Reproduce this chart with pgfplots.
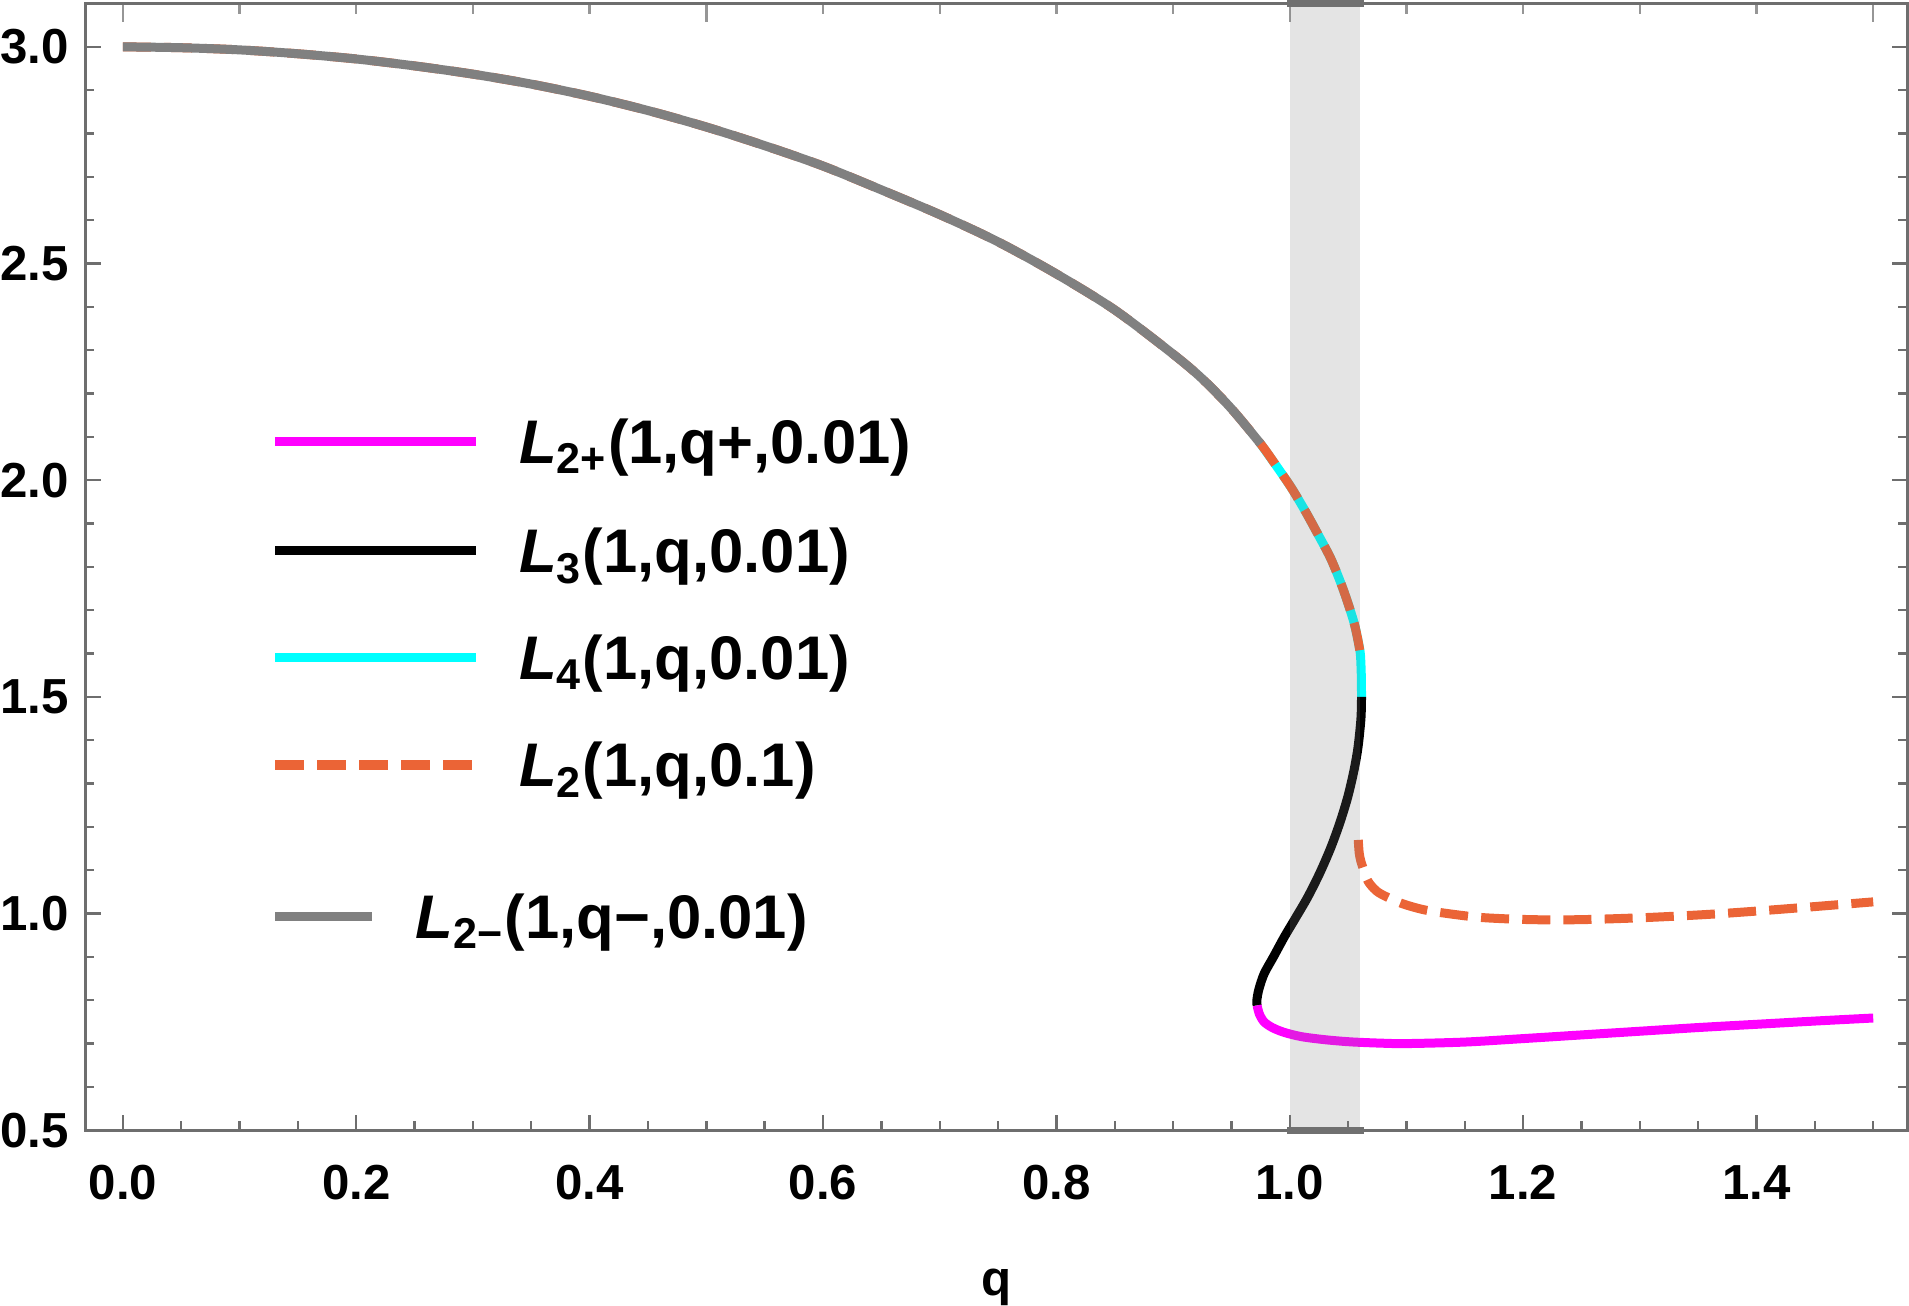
\documentclass[border=0pt]{standalone}
\usepackage{fontspec}
\setmainfont{Liberation Sans}
\usepackage{pgfplots}
\usepackage{pgfplotstable}
\pgfplotsset{compat=1.18}

\definecolor{framegray}{RGB}{110,110,110}
\definecolor{topgray}{RGB}{150,150,150}
\definecolor{curvegray}{RGB}{128,128,128}
\definecolor{dashorange}{RGB}{235,100,54}
\definecolor{bandgray}{RGB}{127,127,127}
\definecolor{bandedge}{RGB}{112,112,112}
\definecolor{pmagenta}{RGB}{255,0,255}
\definecolor{pcyan}{RGB}{0,255,255}

\newcommand{\legfont}{\fontsize{15.4}{18}\selectfont\bfseries}
\newcommand{\tickfont}{\fontsize{12.3}{14}\selectfont\bfseries}

% L_{2-}(1,q-,0.01): upper branch
\pgfplotstableread{
q L
0     3.000
0.05  2.998
0.10  2.993
0.15  2.984
0.20  2.972
0.25  2.956
0.30  2.937
0.35  2.914
0.40  2.886
0.45  2.853
0.50  2.815
0.55  2.772
0.60  2.725
0.65  2.670
0.70  2.613
0.75  2.550
0.80  2.476
0.85  2.393
0.90  2.291
0.925 2.234
0.95  2.165
0.975 2.084
}\tabLtwoMinus

% L_4(1,q,0.01)
\pgfplotstableread{
q L
0.975  2.084
0.988  2.035
1.001  1.984
1.013  1.930
1.024  1.876
1.035  1.820
1.044  1.761
1.050  1.715
1.0553 1.669
1.0585 1.630
1.0605 1.599
1.0613 1.550
1.0615 1.500
}\tabLfour

% L_3(1,q,0.01)
\pgfplotstableread{
q L
1.0615 1.500
1.0610 1.450
1.0585 1.384
1.0550 1.330
1.0497 1.269
1.0430 1.210
1.0353 1.153
1.0260 1.095
1.0154 1.038
1.0050 0.990
0.9953 0.946
0.9860 0.900
0.9780 0.861
0.9735 0.825
0.9718 0.800
0.9720 0.788
}\tabLthree

% L_{2+}(1,q+,0.01)
\pgfplotstableread{
q L
0.9720 0.788
0.9740 0.768
0.9780 0.750
0.9850 0.737
0.9950 0.726
1.0100 0.716
1.0300 0.709
1.0520 0.704
1.0780 0.701
1.1000 0.700
1.1500 0.7035
1.2000 0.7115
1.2500 0.7200
1.3000 0.7285
1.3500 0.7370
1.4000 0.7445
1.4500 0.7520
1.5000 0.7590
}\tabLtwoPlus

% L_2(1,q,0.1): upper branch
\pgfplotstableread{
q L
0     3.000
0.05  2.998
0.10  2.993
0.15  2.984
0.20  2.972
0.25  2.956
0.30  2.937
0.35  2.914
0.40  2.886
0.45  2.853
0.50  2.815
0.55  2.772
0.60  2.725
0.65  2.670
0.70  2.613
0.75  2.550
0.80  2.476
0.85  2.393
0.90  2.291
0.925 2.234
0.95  2.165
0.975 2.084
0.988  2.035
1.001  1.984
1.013  1.930
1.024  1.876
1.035  1.820
1.044  1.761
1.050  1.715
1.0553 1.669
1.0585 1.630
1.0605 1.599
}\tabLtwoUpper

% L_2(1,q,0.1): lower branch
\pgfplotstableread{
q L
1.0587 1.170
1.0595 1.140
1.0610 1.120
1.0635 1.100
1.0668 1.076
1.0720 1.058
1.0783 1.045
1.0953 1.024
1.1130 1.010
1.1300 1.002
1.1640 0.991
1.2070 0.986
1.2500 0.986
1.3070 0.991
1.3640 0.999
1.4210 1.010
1.5000 1.027
}\tabLtwoLower

\begin{document}
\begin{tikzpicture}
% unlabelled ticks along the top edge
\begin{axis}[
  overlay,
  scale only axis, width=455.6pt, height=281.7pt,
  xmin=-0.0323, xmax=1.5294, ymin=0.5, ymax=3.1,
  axis line style={draw=none},
  xtick pos=right, xticklabels={},
  xticklabel style={inner sep=0pt},
  xtick={0,0.5,1.0,1.5},
  minor xtick={0.1,0.2,0.3,0.4,0.6,0.7,0.8,0.9,1.1,1.2,1.3,1.4},
  ytick=\empty,
  tick align=inside,
  major tick length=4.5pt, minor tick length=2.7pt,
  every tick/.style={topgray, line width=0.6pt},
]
\end{axis}
\begin{axis}[
  scale only axis, width=455.6pt, height=281.7pt,
  xmin=-0.0323, xmax=1.5294, ymin=0.5, ymax=3.1,
  clip=false,
  axis line style={framegray, line width=0.75pt},
  xtick={0,0.2,0.4,0.6,0.8,1.0,1.2,1.4},
  minor xtick={0.05,0.1,0.15,0.25,0.3,0.35,0.45,0.5,0.55,0.65,0.7,0.75,0.85,0.9,0.95,1.05,1.1,1.15,1.25,1.3,1.35,1.45,1.5},
  ytick={0.5,1.0,1.5,2.0,2.5,3.0},
  minor ytick={0.6,0.7,0.8,0.9,1.1,1.2,1.3,1.4,1.6,1.7,1.8,1.9,2.1,2.2,2.3,2.4,2.6,2.7,2.8,2.9,3.1},
  xtick pos=left, ytick pos=both,
  tick align=inside,
  major tick length=3.9pt, minor tick length=2.3pt,
  every tick/.style={framegray, line width=0.6pt},
  ticklabel style={font=\tickfont},
  xticklabel style={inner sep=0pt, anchor=north, yshift=-8.6pt},
  yticklabel style={inner sep=0pt, anchor=east, xshift=-4pt},
  xlabel={q},
  xlabel style={font=\tickfont, inner sep=0pt, at={(axis description cs:0.5,0)}, anchor=base, yshift=-41.2pt},
  every axis plot/.append style={line width=2.25pt, line join=round},
  /pgf/number format/.cd, fixed, fixed zerofill, precision=1, assume math mode=true,
]
\addplot[pcyan, smooth] table[x=q, y=L] {\tabLfour};
\addplot[black, smooth] table[x=q, y=L] {\tabLthree};
\addplot[pmagenta, smooth] table[x=q, y=L] {\tabLtwoPlus};
\addplot[dashorange, smooth, dash pattern=on 7pt off 3.3pt] table[x=q, y=L] {\tabLtwoUpper};
\addplot[dashorange, smooth, dash pattern=on 7pt off 3.3pt] table[x=q, y=L] {\tabLtwoLower};
\addplot[curvegray, smooth] table[x=q, y=L] {\tabLtwoMinus};

% translucent band over 1.0 <= q <= 1.06
\fill[bandgray, opacity=0.21] (axis cs:1.0,0.5) rectangle (axis cs:1.06,3.1);
\draw[bandedge, line width=1.75pt] (axis cs:0.998,0.5) -- (axis cs:1.064,0.5);
\draw[bandedge, line width=1.75pt] (axis cs:0.998,3.1) -- (axis cs:1.064,3.1);

% legend
\draw[pmagenta, line width=2.3pt] (axis cs:0.1304,2.090) -- (axis cs:0.3026,2.090);
\node[anchor=base west, inner sep=0pt, yshift=-5.5pt, font=\legfont] at (axis cs:0.339,2.090)
  {\textit{L}\textsubscript{2+}(1,q+,0.01)};
\draw[black, line width=2.3pt] (axis cs:0.1304,1.837) -- (axis cs:0.3026,1.837);
\node[anchor=base west, inner sep=0pt, yshift=-5.5pt, font=\legfont] at (axis cs:0.339,1.837)
  {\textit{L}\textsubscript{3}(1,q,0.01)};
\draw[pcyan, line width=2.3pt] (axis cs:0.1304,1.590) -- (axis cs:0.3026,1.590);
\node[anchor=base west, inner sep=0pt, yshift=-5.5pt, font=\legfont] at (axis cs:0.339,1.590)
  {\textit{L}\textsubscript{4}(1,q,0.01)};
\draw[dashorange, line width=2.3pt, dash pattern=on 7.25pt off 3.25pt] (axis cs:0.1304,1.343) -- (axis cs:0.2992,1.343);
\node[anchor=base west, inner sep=0pt, yshift=-5.5pt, font=\legfont] at (axis cs:0.339,1.343)
  {\textit{L}\textsubscript{2}(1,q,0.1)};
\draw[curvegray, line width=2.3pt] (axis cs:0.1304,0.994) -- (axis cs:0.2139,0.994);
\node[anchor=base west, inner sep=0pt, yshift=-5.5pt, font=\legfont] at (axis cs:0.2504,0.994)
  {\textit{L}\textsubscript{2−}(1,q−,0.01)};
\end{axis}
\end{tikzpicture}
\end{document}
